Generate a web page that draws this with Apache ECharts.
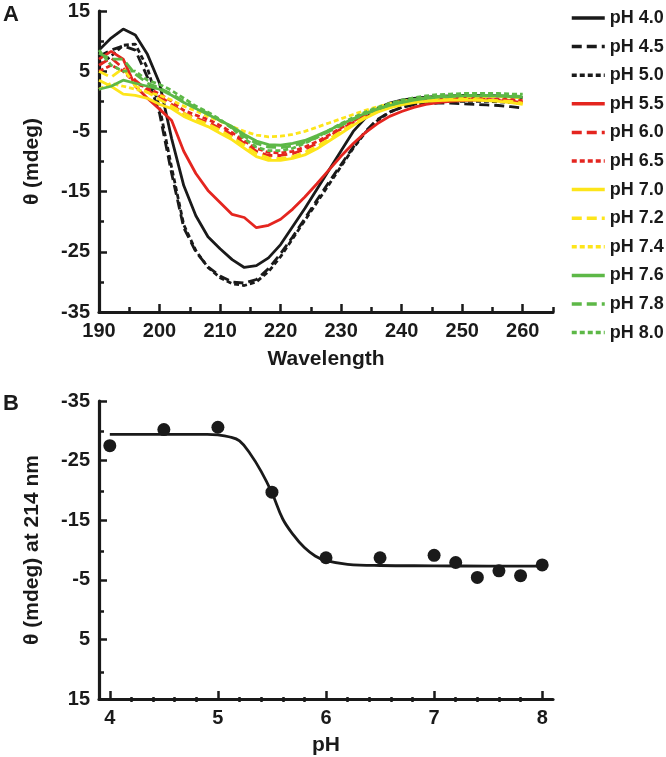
<!DOCTYPE html>
<html><head><meta charset="utf-8">
<script src="https://cdn.jsdelivr.net/npm/echarts@6/dist/echarts.min.js"></script>
<style>html,body{margin:0;padding:0;background:#fff}#c{width:666px;height:757px}</style>
</head><body><div id="c"></div>
<script>
// ---------- Panel A data ----------
const wavelength = [190,192,194,196,198,200,202,204,206,208,210,212,214,216,218,220,222,224,226,228,230,232,234,236,238,240,242,244,246,248,250,252,254,256,258,260];
const pH40 = [8.5,10.5,12.0,11.0,7.8,3.0,-6.2,-14.0,-19.0,-22.5,-24.5,-26.3,-27.6,-27.3,-26.0,-23.8,-20.8,-17.8,-14.6,-11.4,-8.2,-5.0,-2.8,-1.2,-0.3,0.2,0.5,0.7,0.8,0.9,1.0,1.0,1.0,0.9,0.8,0.6];
const pH45 = [7.5,8.5,9.2,8.5,4.0,-2.0,-12.0,-21.0,-25.0,-27.5,-29.0,-30.0,-30.2,-29.6,-27.8,-25.3,-22.5,-19.5,-16.4,-13.4,-10.5,-7.6,-5.0,-3.0,-1.8,-1.0,-0.6,-0.4,-0.3,-0.3,-0.4,-0.5,-0.6,-0.7,-0.9,-1.1];
const pH50 = [6.0,7.5,9.3,9.5,5.5,-1.0,-11.0,-20.5,-24.8,-27.6,-29.3,-30.3,-30.6,-30.0,-28.3,-25.8,-22.8,-19.8,-16.8,-13.8,-10.8,-7.8,-5.2,-3.2,-1.8,-1.0,-0.5,-0.2,-0.1,0.0,0.0,0.0,0.0,-0.1,-0.2,-0.3];
const pH55 = [7.0,8.3,7.0,2.5,0.5,-1.3,-3.2,-8.3,-12.0,-14.8,-16.8,-18.8,-19.3,-21.0,-20.6,-19.6,-17.9,-15.9,-13.7,-11.4,-9.1,-7.0,-5.2,-3.7,-2.5,-1.7,-1.0,-0.5,-0.2,0.0,0.1,0.2,0.2,0.1,0.0,-0.2];
const pH60 = [6.0,7.2,5.5,3.5,1.8,0.8,-0.5,-2.0,-2.8,-3.5,-4.5,-5.5,-7.0,-8.3,-9.0,-9.0,-8.7,-8.0,-7.0,-5.8,-4.6,-3.5,-2.4,-1.6,-0.9,-0.4,0.0,0.2,0.3,0.4,0.4,0.4,0.3,0.2,0.1,-0.2];
const pH65 = [5.0,6.0,5.0,3.0,2.2,1.2,0.0,-1.5,-2.3,-3.0,-4.0,-5.2,-6.6,-7.8,-8.5,-8.6,-8.3,-7.6,-6.7,-5.6,-4.4,-3.3,-2.3,-1.5,-0.8,-0.3,0.1,0.3,0.4,0.5,0.5,0.5,0.4,0.4,0.3,0.1];
const pH70 = [3.5,2.5,1.2,1.0,0.5,-0.5,-1.2,-2.5,-3.4,-4.2,-5.3,-6.4,-7.8,-9.2,-9.8,-9.8,-9.5,-8.9,-7.9,-6.6,-5.3,-4.0,-2.8,-1.8,-1.1,-0.6,-0.2,0.0,0.1,0.2,0.2,0.2,0.1,0.0,-0.2,-0.5];
const pH72 = [5.0,4.0,5.5,2.5,1.5,0.3,-0.8,-2.0,-3.0,-3.8,-4.8,-6.0,-7.3,-8.7,-9.4,-9.5,-9.2,-8.5,-7.5,-6.3,-5.0,-3.8,-2.6,-1.7,-1.0,-0.4,-0.1,0.1,0.2,0.3,0.3,0.3,0.2,0.1,0.0,-0.3];
const pH74 = [2.0,3.0,2.5,2.0,1.5,1.0,0.2,-0.8,-1.6,-2.5,-3.3,-4.2,-5.0,-5.6,-5.9,-5.8,-5.5,-5.0,-4.3,-3.6,-2.9,-2.2,-1.5,-0.9,-0.4,0.0,0.3,0.5,0.6,0.7,0.8,0.8,0.8,0.8,0.7,0.5];
const pH76 = [2.0,2.5,3.5,3.0,2.5,2.0,1.0,-0.2,-1.2,-2.2,-3.2,-4.2,-5.5,-6.6,-7.2,-7.3,-7.0,-6.5,-5.7,-4.8,-3.8,-2.9,-2.0,-1.3,-0.7,-0.2,0.2,0.5,0.7,0.8,0.9,0.9,0.9,0.9,0.8,0.7];
const pH78 = [8.0,7.0,7.0,4.5,3.0,2.2,1.2,0.0,-1.0,-2.0,-3.2,-4.4,-5.8,-7.0,-7.6,-7.7,-7.4,-6.8,-6.0,-5.0,-4.0,-3.0,-2.1,-1.3,-0.6,-0.1,0.3,0.6,0.8,0.9,1.0,1.0,1.0,0.9,0.9,0.8];
const pH80 = [8.5,6.0,5.0,5.0,3.5,2.8,1.8,0.5,-0.8,-1.8,-3.0,-4.5,-6.2,-7.6,-8.2,-8.2,-7.8,-7.0,-6.0,-4.8,-3.7,-2.7,-1.8,-1.0,-0.4,0.2,0.6,0.9,1.1,1.2,1.3,1.3,1.3,1.3,1.2,1.2];
const seriesNames = ['pH 4.0','pH 4.5','pH 5.0','pH 5.5','pH 6.0','pH 6.5','pH 7.0','pH 7.2','pH 7.4','pH 7.6','pH 7.8','pH 8.0'];
const spectra = [pH40,pH45,pH50,pH55,pH60,pH65,pH70,pH72,pH74,pH76,pH78,pH80];

// ---------- Panel B data ----------
const phValues = [4.0,4.5,5.0,5.5,6.0,6.5,7.0,7.2,7.4,7.6,7.8,8.0];
const theta214 = [-27.5,-30.2,-30.6,-19.7,-8.7,-8.7,-9.1,-7.9,-5.4,-6.5,-5.7,-7.5];
const fitPH    = [4.0,4.5,4.9,5.0,5.1,5.2,5.3,5.4,5.5,5.6,5.7,5.8,5.9,6.0,6.2,6.5,7.0,7.5,8.0];
const fitTheta = [-29.4,-29.4,-29.4,-29.3,-29.0,-28.3,-26.1,-23.2,-19.6,-15.2,-12.5,-10.4,-9.0,-8.2,-7.6,-7.4,-7.35,-7.3,-7.3];

// ---------- ticks ----------
const xTicksA = [190,200,210,220,230,240,250,260];
const xMinorTicksA = [195,205,215,225,235,245,255,265];
const yTicksA = [-35,-25,-15,-5,5,15];
const yMinorTicksA = [-30,-20,-10,0,10];
const xTicksB = [4,5,6,7,8];
const xMinorTicksB = [4.2,4.4,4.6,4.8,5.2,5.4,5.6,5.8,6.2,6.4,6.6,6.8,7.2,7.4,7.6,7.8];
const yTicksB = [-35,-25,-15,-5,5,15];
const yMinorTicksB = [-30,-20,-10,0,10];

// ---------- styles ----------
const INK = '#1a1a1a', RED = '#e4251f', YEL = '#fde51a', GRN = '#5db847';
const lineColors = [INK,INK,INK,RED,RED,RED,YEL,YEL,YEL,GRN,GRN,GRN];
const DASH = [10,5], DOT = [5,3];
const lineTypes = ['solid',DASH,DOT,'solid',DASH,DOT,'solid',DASH,DOT,'solid',DASH,DOT];
const FONT = '"Liberation Sans", Arial, sans-serif';
const txt = (size) => ({fontFamily: FONT, fontWeight: 'bold', fontSize: size, color: INK});
const axisLine = {show: true, onZero: false, lineStyle: {color: INK, width: 3.2}};
const tickStyle = {color: INK, width: 2.5};

function mainAxis(grid, min, max, ticks, extra) {
  return Object.assign({
    type: 'value', gridIndex: grid, min: min, max: max,
    axisLine: axisLine,
    axisTick: {show: true, inside: true, length: 8, customValues: ticks, lineStyle: tickStyle},
    axisLabel: Object.assign({customValues: ticks, margin: 9}, txt(20)),
    splitLine: {show: false}
  }, extra || {});
}
function minorAxis(grid, min, max, ticks, extra) {
  return Object.assign({
    type: 'value', gridIndex: grid, min: min, max: max,
    axisLine: {show: false, onZero: false},
    axisTick: {show: true, inside: true, length: 5, customValues: ticks, lineStyle: tickStyle},
    axisLabel: {show: false},
    splitLine: {show: false}
  }, extra || {});
}

const gA = {left: 99, top: 11, width: 454, height: 301};
const gB = {left: 99, top: 401, width: 454, height: 301};

const series = spectra.map((arr, i) => ({
  name: seriesNames[i], type: 'line', xAxisIndex: 0, yAxisIndex: 0,
  symbol: 'none', smooth: false,
  data: wavelength.map((w, j) => [w, arr[j]]),
  lineStyle: {color: lineColors[i], width: 2.8, type: lineTypes[i]},
  itemStyle: {color: lineColors[i]},
  z: 2
}));
series.push({
  name: 'fit', type: 'line', xAxisIndex: 2, yAxisIndex: 2, symbol: 'none', smooth: 0.4,
  data: fitPH.map((p, j) => [p, fitTheta[j]]),
  lineStyle: {color: INK, width: 2.8}
});
series.push({
  name: 'points', type: 'scatter', xAxisIndex: 2, yAxisIndex: 2, symbol: 'circle', symbolSize: 13,
  data: phValues.map((p, j) => [p, theta214[j]]),
  itemStyle: {color: INK, opacity: 1}
});

const option = {
  animation: false,
  backgroundColor: '#fff',
  grid: [gA, Object.assign({}, gA), gB, Object.assign({}, gB)],
  xAxis: [
    mainAxis(0, 190, 265, xTicksA, {name: 'Wavelength', nameLocation: 'middle', nameGap: 37, nameTextStyle: txt(21)}),
    minorAxis(1, 190, 265, xMinorTicksA),
    mainAxis(2, 3.9, 8.1, xTicksB, {name: 'pH', nameLocation: 'middle', nameGap: 36, nameTextStyle: txt(21)}),
    minorAxis(3, 3.9, 8.1, xMinorTicksB)
  ],
  yAxis: [
    mainAxis(0, -35, 15, yTicksA, {name: 'θ (mdeg)', nameLocation: 'middle', nameGap: 56, nameTextStyle: txt(21)}),
    minorAxis(1, -35, 15, yMinorTicksA),
    mainAxis(2, -35, 15, yTicksB, {inverse: true, name: 'θ (mdeg) at 214 nm', nameLocation: 'middle', nameGap: 56, nameTextStyle: txt(21)}),
    minorAxis(3, -35, 15, yMinorTicksB, {inverse: true})
  ],
  legend: {
    data: seriesNames, orient: 'vertical', left: 570, top: 9, padding: 0,
    itemWidth: 33, itemHeight: 14, itemGap: 10.6,
    itemStyle: {opacity: 0, borderWidth: 0},
    lineStyle: {width: 3.5},
    textStyle: Object.assign({lineHeight: 14}, txt(18)),
    selectedMode: false
  },
  graphic: [
    {type: 'text', left: 3, top: 4, style: {text: 'A', font: 'bold 22px ' + FONT, fill: INK}},
    {type: 'text', left: 3, top: 393, style: {text: 'B', font: 'bold 22px ' + FONT, fill: INK}}
  ],
  series: series
};
const chart = echarts.init(document.getElementById('c'));
chart.setOption(option);
</script>
</body></html>
